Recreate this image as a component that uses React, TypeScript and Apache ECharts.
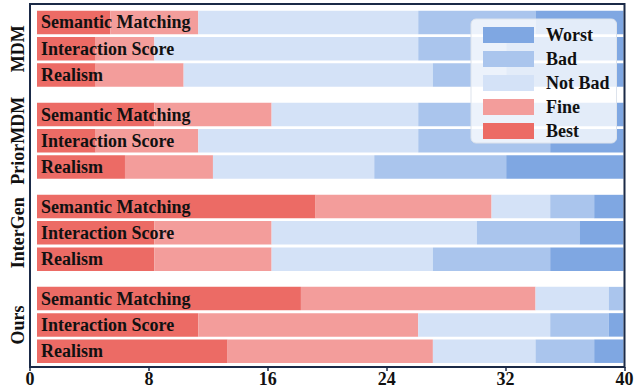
import React, { useEffect, useRef } from "react";
import * as echarts from "echarts";

const groups = ["MDM", "PriorMDM", "InterGen", "Ours"];
const criteria = ["Semantic Matching", "Interaction Score", "Realism"];
const ratings = ["Best", "Fine", "Not Bad", "Bad", "Worst"];
const legendOrder = ["Worst", "Bad", "Not Bad", "Fine", "Best"];
const xTicks = [0, 8, 16, 24, 32, 40];

// counts per rating, ordered MDM(SM,IS,R), PriorMDM, InterGen, Ours
const bestCounts = [5, 4, 4, 8, 4, 6, 19, 8, 8, 18, 11, 13];
const fineCounts = [6, 4, 6, 8, 7, 6, 12, 8, 8, 16, 15, 14];
const notBadCounts = [15, 18, 17, 10, 15, 11, 4, 14, 11, 5, 9, 7];
const badCounts = [8, 6, 5, 9, 9, 9, 3, 7, 8, 1, 4, 4];
const worstCounts = [6, 8, 8, 5, 5, 8, 2, 3, 5, 0, 1, 2];

const ratingData = [bestCounts, fineCounts, notBadCounts, badCounts, worstCounts];
const colors = ["#ec6b65", "#f39d9b", "#d4e2f7", "#aac5ed", "#7fa7e2"];

const FONT = "'Liberation Serif', 'Times New Roman', serif";

export default function App() {
  const ref = useRef<HTMLDivElement>(null);
  useEffect(() => {
    document.body.style.margin = "0";
    const chart = echarts.init(ref.current!, null, { renderer: "svg" });
    const pitch = 26.3;
    const firstTop = 9.3;
    const grids: any[] = [];
    const xAxes: any[] = [];
    const yAxes: any[] = [];
    const series: any[] = [];
    groups.forEach((g, gi) => {
      grids.push({ left: 37, right: 16.5, top: firstTop + gi * 3.5 * pitch, height: 3 * pitch });
      xAxes.push({ gridIndex: gi, type: "value", min: 0, max: 40, show: false });
      yAxes.push({
        gridIndex: gi,
        type: "category",
        inverse: true,
        data: criteria,
        z: 10,
        axisLine: { show: false },
        axisTick: { show: false },
        axisLabel: {
          inside: true,
          margin: 4,
          color: "#111",
          fontFamily: FONT,
          fontWeight: "bold",
          fontSize: 18,
        },
        name: g,
        nameLocation: "middle",
        nameRotate: 90,
        nameGap: 10,
        nameTextStyle: { color: "#111", fontFamily: FONT, fontWeight: "bold", fontSize: 18 },
      });
      ratings.forEach((r, ri) => {
        series.push({
          type: "bar",
          name: r,
          stack: "g" + gi,
          xAxisIndex: gi,
          yAxisIndex: gi,
          barWidth: 23.5,
          itemStyle: { color: colors[ri] },
          data: ratingData[ri].slice(gi * 3, gi * 3 + 3),
        });
      });
    });
    // frame + tick axis
    grids.push({
      left: 30,
      right: 15.5,
      top: 4,
      bottom: 22,
      show: true,
      borderColor: "#1b2a47",
      borderWidth: 2,
      backgroundColor: "transparent",
      z: 5,
    });
    xAxes.push({
      gridIndex: 4,
      type: "value",
      min: xTicks[0],
      max: xTicks[xTicks.length - 1],
      interval: 8,
      axisLine: { show: false },
      axisTick: { show: true, length: 4, lineStyle: { color: "#1b2a47", width: 1.5 } },
      splitLine: { show: false },
      axisLabel: { margin: 3, color: "#111", fontFamily: FONT, fontWeight: "bold", fontSize: 18 },
    });
    yAxes.push({ gridIndex: 4, type: "value", min: 0, max: 1, show: false });

    chart.setOption({
      animation: false,
      grid: grids,
      xAxis: xAxes,
      yAxis: yAxes,
      legend: {
        data: legendOrder,
        orient: "vertical",
        left: 471,
        top: 19,
        itemWidth: 51,
        itemHeight: 16,
        itemGap: 6,
        padding: [7, 7, 3, 12],
        backgroundColor: "rgba(255,255,255,0.78)",
        borderColor: "#dde3ec",
        borderWidth: 1,
        borderRadius: 5,
        icon: "rect",
        textStyle: {
          color: "#111",
          fontFamily: FONT,
          fontWeight: "bold",
          fontSize: 18,
          padding: [0, 0, 0, 7],
        },
      },
      series,
    });
    return () => chart.dispose();
  }, []);
  return <div ref={ref} style={{ width: 640, height: 389 }} />;
}
